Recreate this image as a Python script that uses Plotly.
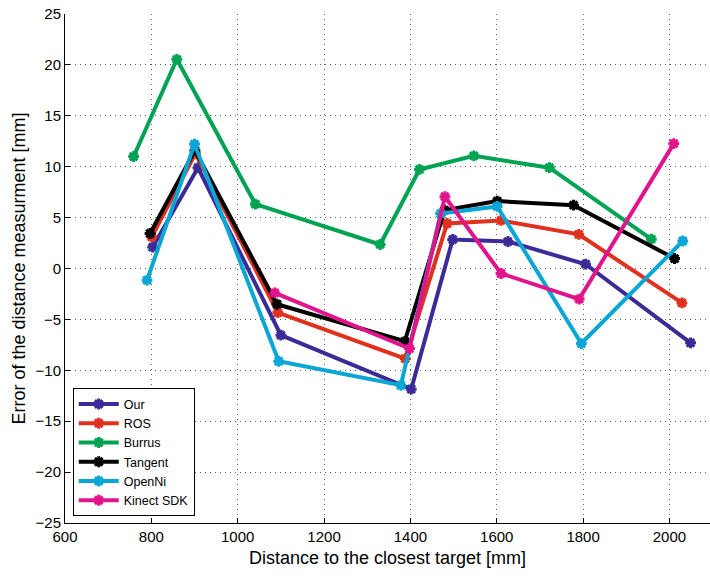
import plotly.graph_objects as go

# ---- data ----
our_x = [803, 908, 1100, 1402, 1498, 1626, 1806, 2049]
our_y = [2.1, 9.9, -6.55, -11.85, 2.85, 2.65, 0.42, -7.3]

ros_x = [801, 902, 1093, 1388, 1485, 1610, 1790, 2029]
ros_y = [3.1, 11.3, -4.33, -8.85, 4.42, 4.72, 3.35, -3.38]

burrus_x = [759, 859, 1041, 1330, 1421, 1547, 1722, 1958]
burrus_y = [11.0, 20.55, 6.32, 2.36, 9.73, 11.07, 9.9, 2.88]

tangent_x = [797, 901, 1091, 1387, 1479, 1601, 1778, 2012]
tangent_y = [3.44, 11.6, -3.51, -7.15, 5.73, 6.62, 6.22, 0.98]

openni_x = [790, 900, 1095, 1378, 1470, 1601, 1796, 2031]
openni_y = [-1.15, 12.22, -9.11, -11.47, 5.4, 6.1, -7.37, 2.7]

kinect_x = [1086, 1398, 1480, 1610, 1791, 2010]
kinect_y = [-2.4, -7.87, 7.05, -0.49, -3.0, 12.27]

series = [
    ("Our", our_x, our_y, "#3b2a98"),
    ("ROS", ros_x, ros_y, "#e0301e"),
    ("Burrus", burrus_x, burrus_y, "#00a352"),
    ("Tangent", tangent_x, tangent_y, "#000000"),
    ("OpenNi", openni_x, openni_y, "#0aa6d6"),
    ("Kinect SDK", kinect_x, kinect_y, "#e2148c"),
]

x_ticks = [600, 800, 1000, 1200, 1400, 1600, 1800, 2000]
y_ticks = [-25, -20, -15, -10, -5, 0, 5, 10, 15, 20, 25]

fig = go.Figure()
for name, xs, ys, col in series:
    fig.add_trace(go.Scatter(
        x=xs, y=ys, name=name, mode="lines+markers",
        line=dict(color=col, width=4),
        marker=dict(symbol="asterisk", size=9, color=col,
                    line=dict(color=col, width=3)),
    ))

font_family = "Liberation Sans, Arial, Helvetica, sans-serif"
fig.update_layout(
    width=710, height=576,
    margin=dict(l=65, r=0, t=14, b=53),
    paper_bgcolor="white", plot_bgcolor="white",
    font=dict(family=font_family, color="black", size=15),
    showlegend=True,
    legend=dict(
        x=0.012, y=0.013, xanchor="left", yanchor="bottom",
        bgcolor="white", bordercolor="black", borderwidth=1,
        font=dict(size=12.5, family=font_family),
        tracegroupgap=0, itemwidth=40,
    ),
)
grid_dash = "1px,4px"
fig.update_xaxes(
    range=[600, 2094], tickvals=x_ticks,
    showgrid=True, gridcolor="#606060", griddash=grid_dash, gridwidth=1,
    showline=True, linecolor="black", linewidth=1, mirror=False,
    ticks="inside", ticklen=5, tickcolor="black",
    zeroline=False,
    tickfont=dict(size=15),
    title=dict(text="Distance to the closest target [mm]", font=dict(size=18), standoff=7),
)
fig.update_yaxes(
    range=[-25, 25], tickvals=y_ticks,
    showgrid=True, gridcolor="#606060", griddash=grid_dash, gridwidth=1,
    showline=True, linecolor="black", linewidth=1, mirror=False,
    ticks="inside", ticklen=5, tickcolor="black",
    zeroline=False,
    tickfont=dict(size=15),
    title=dict(text="Error of the distance measurment [mm]", font=dict(size=18), standoff=5),
)

fig.write_html("out.html")
